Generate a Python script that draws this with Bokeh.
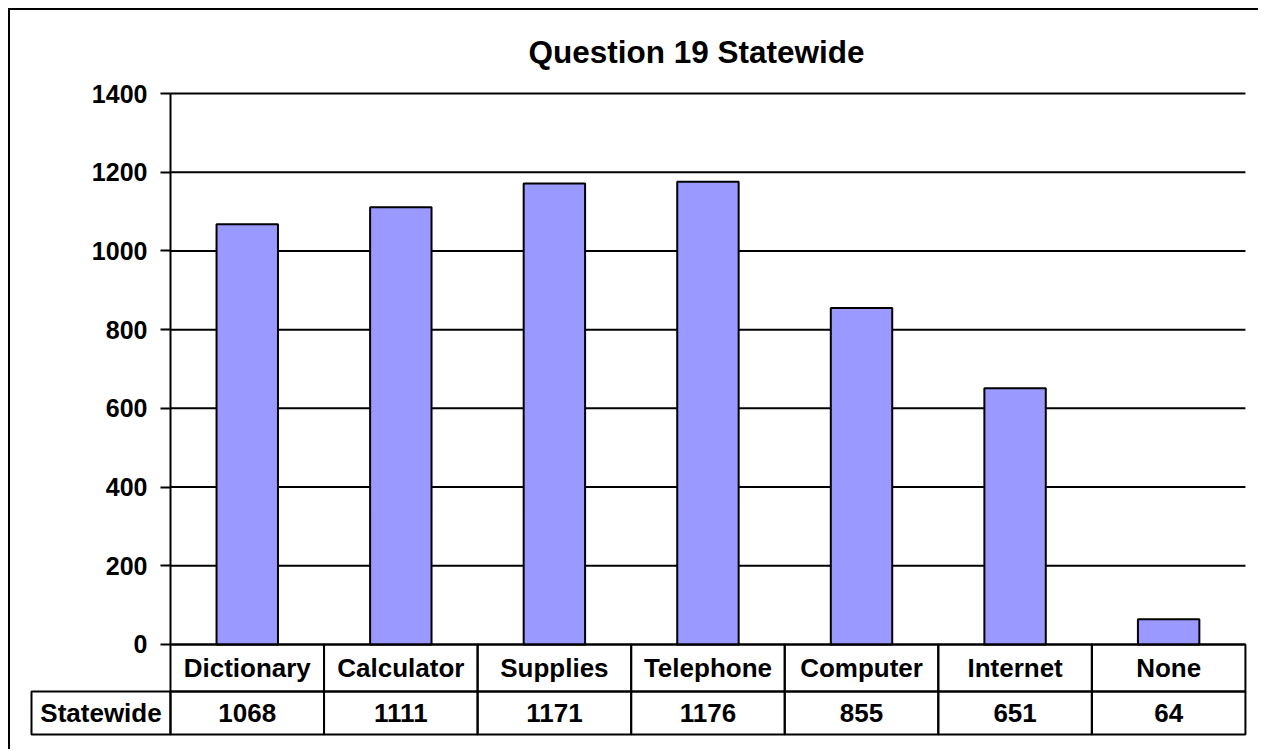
from bokeh.plotting import figure
from bokeh.models import Range1d, FixedTicker, ColumnDataSource, LinearAxis
from bokeh.embed import file_html
from bokeh.resources import INLINE
from bokeh.core.properties import value

# ---- data ----
title_text = "Question 19 Statewide"
categories = ["Dictionary", "Calculator", "Supplies", "Telephone", "Computer", "Internet", "None"]
statewide = [1068, 1111, 1171, 1176, 855, 651, 64]
series_name = "Statewide"
y_ticks = [0, 200, 400, 600, 800, 1000, 1200, 1400]

FONT = "Liberation Sans"
BAR = "#9999FF"

n = len(categories)
y_max = y_ticks[-1]
# data-table rows live below the value axis (in value units)
row_mid = -119.4
row_bot = -228.7
header_w = 0.905

p = figure(width=1250, height=741,
           x_range=Range1d(-0.918, 7.02), y_range=Range1d(-244.0, 1443.2),
           output_backend="svg", toolbar_location=None,
           x_axis_location=None, y_axis_location=None,
           min_border_left=19, min_border_right=12,
           min_border_top=66, min_border_bottom=11)
p.styles = {"margin-left": "8px", "margin-top": "8px",
            "border-left": "2px solid black", "border-top": "2px solid black"}
p.outline_line_color = None
p.xgrid.grid_line_color = None
p.ygrid.grid_line_color = None
p.background_fill_color = "white"
p.border_fill_color = "white"

p.title.text = title_text
p.title.text_font = FONT
p.title.text_font_size = "31.5px"
p.title.text_font_style = "bold"
p.title.text_color = "black"
p.title.align = "left"
p.title.offset = 499
p.title.standoff = 13

# horizontal grid lines at the tick values, across the category columns
p.segment(x0=0, x1=n, y0=y_ticks, y1=y_ticks, line_color="black", line_width=2,
          level="underlay")

# bars
idx = list(range(n))
src = ColumnDataSource(dict(
    x=[i + 0.5 for i in idx], left=idx, right=[i + 1 for i in idx],
    cat=categories, val=statewide, lbl=[str(v) for v in statewide]))
p.vbar(x="x", top="val", bottom=0, width=0.4, source=src,
       fill_color=BAR, line_color="black", line_width=2)

# value axis, drawn at the left edge of the category columns
ax = LinearAxis(fixed_location=0, bounds=(0, y_max), ticker=FixedTicker(ticks=y_ticks))
ax.axis_line_color = "black"
ax.axis_line_width = 2
ax.major_tick_line_color = "black"
ax.major_tick_line_width = 2
ax.major_tick_in = 0
ax.major_tick_out = 10
ax.minor_tick_line_color = None
ax.major_label_standoff = 13
ax.major_label_text_font = FONT
ax.major_label_text_font_size = "25px"
ax.major_label_text_font_style = "bold"
ax.major_label_text_color = "black"
p.add_layout(ax, "left")

# data table
p.quad(left="left", right="right", bottom=row_mid, top=0, source=src,
       fill_color=None, line_color="black", line_width=2)
p.quad(left="left", right="right", bottom=row_bot, top=row_mid, source=src,
       fill_color=None, line_color="black", line_width=2)
p.quad(left=[-header_w], right=[0], bottom=[row_bot], top=[row_mid],
       fill_color=None, line_color="black", line_width=2)

txt = dict(text_align="center", text_baseline="middle", text_font=value(FONT),
           text_font_size="26px", text_font_style="bold", text_color="black")
p.text(x="x", y=row_mid / 2, text="cat", source=src, **txt)
p.text(x="x", y=(row_mid + row_bot) / 2, text="lbl", source=src, **txt)
p.text(x=[-header_w / 2], y=[(row_mid + row_bot) / 2], text=[series_name], **txt)

open("out.html", "w").write(file_html(p, INLINE))
